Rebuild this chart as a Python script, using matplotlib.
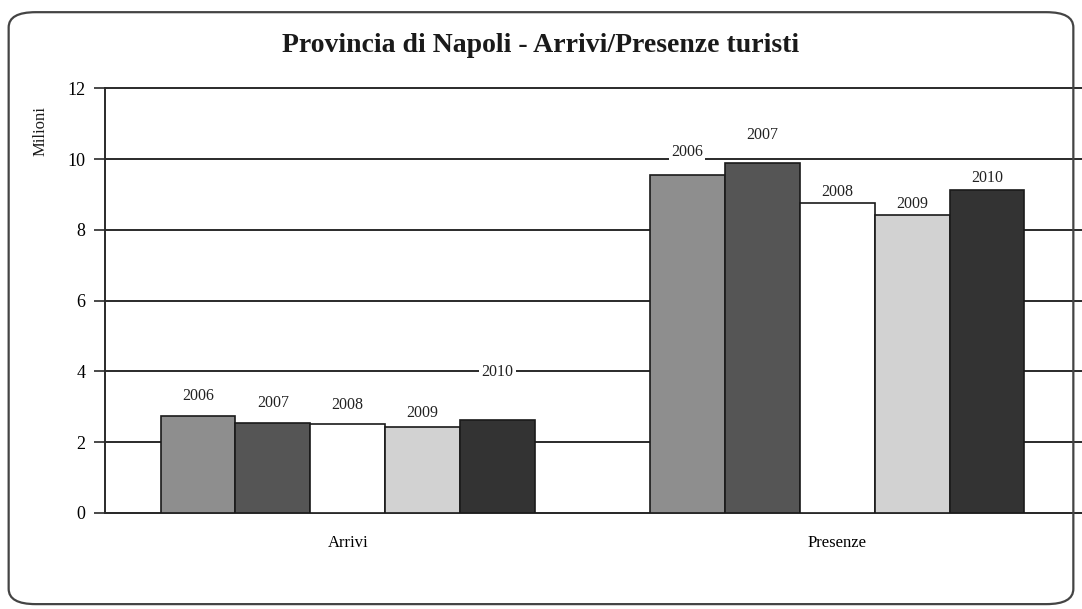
import matplotlib.pyplot as plt
import numpy as np
from matplotlib.patches import FancyBboxPatch

categories = ["Arrivi", "Presenze"]
years = ["2006", "2007", "2008", "2009", "2010"]
# milioni per anno, in ordine [Arrivi, Presenze]
values = {
    "2006": [2.74, 9.55],
    "2007": [2.54, 9.89],
    "2008": [2.51, 8.76],
    "2009": [2.43, 8.42],
    "2010": [2.63, 9.12],
}

colors = ["#8e8e8e", "#555555", "#ffffff", "#d2d2d2", "#333333"]
# spostamento verticale delle etichette sopra le barre (milioni)
label_lift = {
    "2006": [0.55, 0.65],
    "2007": [0.55, 0.80],
    "2008": [0.55, 0.30],
    "2009": [0.40, 0.30],
    "2010": [1.35, 0.35],
}

plt.rcParams["font.family"] = ["Liberation Serif", "DejaVu Serif"]

fig = plt.figure(figsize=(10.82, 6.09), dpi=100)
ax = fig.add_axes([0.097, 0.158, 0.903, 0.697])

border = FancyBboxPatch((0.008, 0.008), 0.984, 0.972,
                        boxstyle="round,pad=0,rounding_size=0.025",
                        transform=fig.transFigure, facecolor="none",
                        edgecolor="#444444", linewidth=1.6, zorder=0)
fig.patches.append(border)

x = np.arange(len(categories))
width = 0.153
for i, yr in enumerate(years):
    pos = x + (i - 2) * width
    ax.bar(pos, values[yr], width, color=colors[i], edgecolor="#1a1a1a",
           linewidth=1.2, zorder=3)
    for p, v, lift in zip(pos, values[yr], label_lift[yr]):
        ax.text(p, v + lift, yr, ha="center", va="center", fontsize=11.5,
                color="#222222", zorder=4,
                bbox=dict(facecolor="white", edgecolor="none", pad=1.5))

ax.set_xlim(-0.496, 1.5)
ax.set_ylim(0, 12)
ax.set_yticks(range(0, 13, 2))
ax.yaxis.grid(True, color="#2a2a2a", linewidth=1.4)
for gl in ax.get_ygridlines():
    gl.set_clip_on(False)
ax.set_axisbelow(True)
ax.set_xticks(x)
ax.set_xticklabels(categories, fontsize=12)
ax.tick_params(axis="x", length=0, pad=16)
ax.tick_params(axis="y", length=8, width=1.2, color="#2a2a2a",
               labelsize=13, pad=6)
for side in ["top", "right"]:
    ax.spines[side].set_visible(False)
for side in ["left", "bottom"]:
    ax.spines[side].set_color("#2a2a2a")
    ax.spines[side].set_linewidth(1.4)

fig.text(0.5, 0.925, "Provincia di Napoli - Arrivi/Presenze turisti",
         ha="center", va="center", fontsize=20, fontweight="bold",
         color="#1a1a1a")
fig.text(0.037, 0.785, "Milioni", rotation=90, ha="center", va="center",
         fontsize=12, color="#1a1a1a")

fig.savefig("out.png", dpi=100)
